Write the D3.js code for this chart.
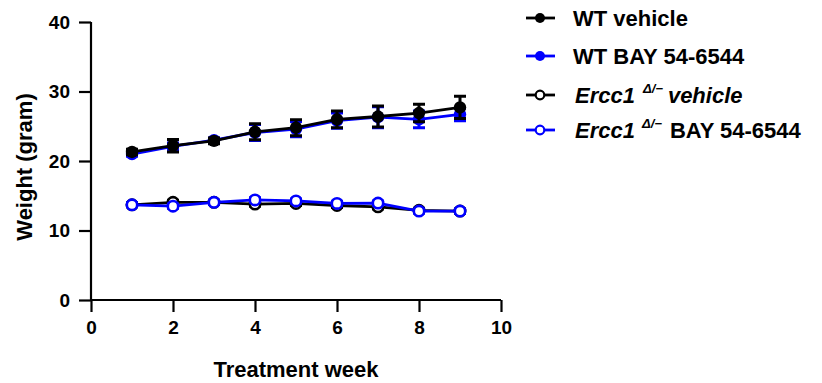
<!DOCTYPE html>
<html lang="en">
<head>
<meta charset="utf-8">
<script src="https://d3js.org/d3.v7.min.js"></script>
<style>
  body { margin: 0; background: #fff; }
  text { font-family: "Liberation Sans", Arial, sans-serif; font-weight: bold; }
</style>
<title>Weight</title>
</head>
<body>
<script>
// data
var weeks = [1, 2, 3, 4, 5, 6, 7, 8, 9];
var wtVehicle = [21.3, 22.2, 22.9, 24.2, 24.8, 26.0, 26.4, 26.9, 27.7];
var wtVehicleErr = [0.4, 0.9, 0.4, 1.15, 1.15, 1.2, 1.5, 1.25, 1.6];
var wtBay = [21.0, 22.1, 23.0, 24.1, 24.6, 25.8, 26.3, 26.0, 26.7];
var wtBayErr = [0.3, 0.5, 0.3, 1.15, 1.1, 1.1, 1.5, 1.2, 0.9];
var koVehicle = [13.7, 14.05, 14.05, 13.8, 13.9, 13.6, 13.4, 12.9, 12.8];
var koVehicleErr = [0.3, 0.3, 0.3, 0.3, 0.3, 0.3, 0.3, 0.3, 0.3];
var koBay = [13.7, 13.5, 14.05, 14.4, 14.25, 13.9, 13.95, 12.8, 12.8];
var koBayErr = [0.3, 0.3, 0.3, 0.3, 0.3, 0.3, 0.3, 0.3, 0.3];
var xTicks = [0, 2, 4, 6, 8, 10];
var yTicks = [0, 10, 20, 30, 40];

var w = 822, h = 383;
var svg = d3.select("body").append("svg").attr("width", w).attr("height", h);

var x = d3.scaleLinear().domain([0, 10]).range([91, 501]);
var y = d3.scaleLinear().domain([0, 40]).range([300, 22]);

// axes
var xAxis = svg.append("g").attr("transform", "translate(0,300)")
  .call(d3.axisBottom(x).tickValues(xTicks).tickSize(12).tickPadding(9).tickSizeOuter(0));
var yAxis = svg.append("g").attr("transform", "translate(91,0)")
  .call(d3.axisLeft(y).tickValues(yTicks).tickSize(12).tickPadding(9).tickSizeOuter(0));
[xAxis, yAxis].forEach(function(a) {
  a.select(".domain").attr("stroke", "#000").attr("stroke-width", 2.2);
  a.selectAll(".tick line").attr("stroke", "#000").attr("stroke-width", 2.2);
  a.selectAll(".tick text").attr("fill", "#000").style("font-size", "19px")
    .style("font-family", "'Liberation Sans', Arial, sans-serif").style("font-weight", "bold");
});
xAxis.select(".domain").attr("d", "M91,0H501");
yAxis.select(".domain").attr("d", "M0,300V22");

svg.append("text").attr("x", 296).attr("y", 377).attr("text-anchor", "middle")
  .style("font-size", "22px").text("Treatment week");
svg.append("text").attr("transform", "translate(32,167) rotate(-90)").attr("text-anchor", "middle")
  .style("font-size", "22px").text("Weight (gram)");

var series = [
  { name: "WT BAY", vals: wtBay, err: wtBayErr, color: "#0000ff", filled: true },
  { name: "WT vehicle", vals: wtVehicle, err: wtVehicleErr, color: "#000", filled: true },
  { name: "KO vehicle", vals: koVehicle, err: koVehicleErr, color: "#000", filled: false },
  { name: "KO BAY", vals: koBay, err: koBayErr, color: "#0000ff", filled: false }
];

var line = d3.line().x(function(d) { return x(d[0]); }).y(function(d) { return y(d[1]); });

series.forEach(function(s) {
  var g = svg.append("g");
  var pts = weeks.map(function(wk, i) { return [wk, s.vals[i], s.err[i]]; });
  // error bars
  pts.forEach(function(p) {
    var top = y(p[1] + p[2]), bot = y(p[1] - p[2]), cx = x(p[0]);
    g.append("path").attr("d", "M" + cx + "," + top + "V" + bot +
      "M" + (cx - 6) + "," + top + "H" + (cx + 6) + "M" + (cx - 6) + "," + bot + "H" + (cx + 6))
      .attr("stroke", s.color).attr("stroke-width", 3).attr("fill", "none");
  });
  g.append("path").datum(pts).attr("d", line).attr("fill", "none")
    .attr("stroke", s.color).attr("stroke-width", 2.8);
  g.selectAll("circle").data(pts).enter().append("circle")
    .attr("cx", function(d) { return x(d[0]); })
    .attr("cy", function(d) { return y(d[1]); })
    .attr("r", s.filled ? 6.2 : 5.2)
    .attr("fill", s.filled ? s.color : "#fff")
    .attr("stroke", s.color).attr("stroke-width", s.filled ? 0 : 2.6);
});

// legend
var legend = [
  { color: "#000", filled: true, y: 18 },
  { color: "#0000ff", filled: true, y: 56 },
  { color: "#000", filled: false, y: 95 },
  { color: "#0000ff", filled: false, y: 130 }
];
legend.forEach(function(l) {
  svg.append("line").attr("x1", 526).attr("x2", 555).attr("y1", l.y).attr("y2", l.y)
    .attr("stroke", l.color).attr("stroke-width", 2.8);
  svg.append("circle").attr("cx", 540).attr("cy", l.y).attr("r", l.filled ? 5 : 4.3)
    .attr("fill", l.filled ? l.color : "#fff").attr("stroke", l.color)
    .attr("stroke-width", l.filled ? 0 : 2.2);
});
svg.append("text").attr("x", 573).attr("y", 26).style("font-size", "22px").text("WT vehicle");
svg.append("text").attr("x", 573).attr("y", 64).style("font-size", "22px").text("WT BAY 54-6544");
var t3 = svg.append("text").attr("x", 575).attr("y", 103).style("font-size", "22px");
t3.append("tspan").style("font-style", "italic").text("Ercc1");
t3.append("tspan").style("font-style", "italic").style("font-size", "13px").attr("dx", 8).attr("dy", -10).text("\u0394/\u2212");
t3.append("tspan").style("font-style", "italic").attr("dx", 5).attr("dy", 10).text("vehicle");
var t4 = svg.append("text").attr("x", 575).attr("y", 138).style("font-size", "22px");
t4.append("tspan").style("font-style", "italic").text("Ercc1");
t4.append("tspan").style("font-style", "italic").style("font-size", "13px").attr("dx", 7).attr("dy", -10).text("\u0394/\u2212");
t4.append("tspan").attr("dx", 8).attr("dy", 10).text("BAY 54-6544");
</script>
</body>
</html>
